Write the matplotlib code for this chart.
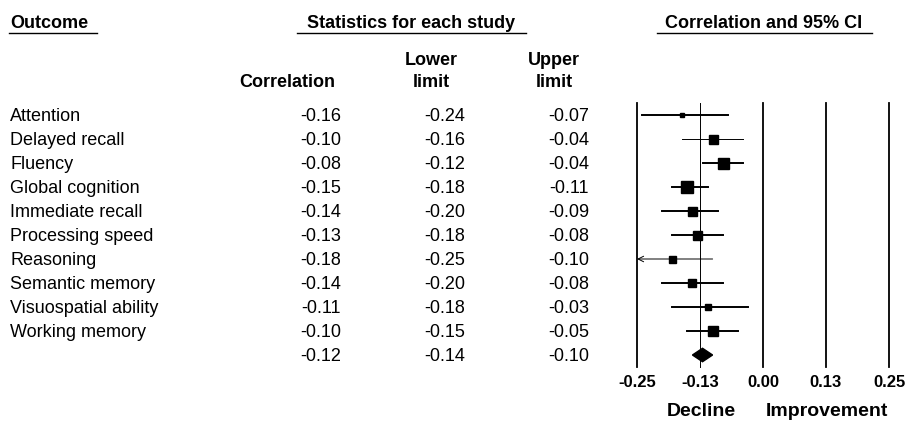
import numpy as np
import matplotlib
matplotlib.use("Agg")
import matplotlib.pyplot as plt

plt.rcParams["font.family"] = ["Liberation Sans", "DejaVu Sans"]

# Data
outcomes = ["Attention", "Delayed recall", "Fluency", "Global cognition",
            "Immediate recall", "Processing speed", "Reasoning",
            "Semantic memory", "Visuospatial ability", "Working memory"]
corr = [-0.16, -0.10, -0.08, -0.15, -0.14, -0.13, -0.18, -0.14, -0.11, -0.10]
lower = [-0.24, -0.16, -0.12, -0.18, -0.20, -0.18, -0.25, -0.20, -0.18, -0.15]
upper = [-0.07, -0.04, -0.04, -0.11, -0.09, -0.08, -0.10, -0.08, -0.03, -0.05]
weights = [5, 9, 11, 12, 9, 9, 7, 7.5, 5.5, 10]
summary = (-0.12, -0.14, -0.10)

tick_vals = [-0.25, -0.125, 0.0, 0.125, 0.25]
tick_labels = ["-0.25", "-0.13", "0.00", "0.13", "0.25"]

W, H = 910, 421
fig = plt.figure(figsize=(W / 100, H / 100), dpi=100)

# text layer in pixel coords
tx = fig.add_axes([0, 0, 1, 1])
tx.set_xlim(0, W)
tx.set_ylim(H, 0)
tx.axis("off")

fs = 13
tx.text(10, 28, "Outcome", fontsize=fs, fontweight="bold", va="baseline")
tx.plot([9, 97], [33, 33], color="black", lw=1)
tx.text(411, 28, "Statistics for each study", fontsize=fs, fontweight="bold",
        va="baseline", ha="center")
tx.plot([297, 526], [33, 33], color="black", lw=1)
tx.text(764, 28, "Correlation and 95% CI", fontsize=fs, fontweight="bold",
        va="baseline", ha="center")
tx.plot([657, 872], [33, 33], color="black", lw=1)

tx.text(287, 87, "Correlation", fontsize=fs, fontweight="bold", va="baseline", ha="center")
tx.text(431, 65, "Lower", fontsize=fs, fontweight="bold", va="baseline", ha="center")
tx.text(431, 87, "limit", fontsize=fs, fontweight="bold", va="baseline", ha="center")
tx.text(554, 65, "Upper", fontsize=fs, fontweight="bold", va="baseline", ha="center")
tx.text(554, 87, "limit", fontsize=fs, fontweight="bold", va="baseline", ha="center")

for i, name in enumerate(outcomes):
    yb = 121 + 24 * i
    tx.text(10, yb, name, fontsize=fs, va="baseline")
    tx.text(341, yb, f"{corr[i]:.2f}", fontsize=fs, va="baseline", ha="right")
    tx.text(465, yb, f"{lower[i]:.2f}", fontsize=fs, va="baseline", ha="right")
    tx.text(589, yb, f"{upper[i]:.2f}", fontsize=fs, va="baseline", ha="right")
yb = 121 + 24 * len(outcomes)
tx.text(341, yb, f"{summary[0]:.2f}", fontsize=fs, va="baseline", ha="right")
tx.text(465, yb, f"{summary[1]:.2f}", fontsize=fs, va="baseline", ha="right")
tx.text(589, yb, f"{summary[2]:.2f}", fontsize=fs, va="baseline", ha="right")

tx.text(701, 416, "Decline", fontsize=14, fontweight="bold", va="baseline", ha="center")
tx.text(827, 416, "Improvement", fontsize=14, fontweight="bold", va="baseline", ha="center")

# forest plot
ax = fig.add_axes([637 / W, 1 - 367 / H, 252 / W, 264 / H])
ax.set_xlim(-0.25, 0.25)
ax.set_ylim(len(outcomes) + 0.5, -0.5)
for s in ax.spines.values():
    s.set_visible(False)
ax.set_yticks([])
ax.set_xticks(tick_vals)
ax.set_xticklabels(tick_labels, fontsize=12, fontweight="bold")
ax.tick_params(axis="x", length=0, pad=5.5)

for v in [-0.25, 0.0, 0.125, 0.25]:
    ax.axvline(v, color="black", lw=1.3, clip_on=False)
ax.axvline(-0.125, color="black", lw=0.7, clip_on=False)

thin = {1, 6}
for i in range(len(outcomes)):
    lw = 0.7 if i in thin else 1.4
    lo = lower[i]
    if lo <= -0.25:
        ax.annotate("", xy=(-0.25, i), xytext=(upper[i], i),
                    arrowprops=dict(arrowstyle="->", lw=lw, color="black",
                                    shrinkA=0, shrinkB=0))
    else:
        ax.plot([lo, upper[i]], [i, i], color="black", lw=lw)
    ax.plot(corr[i], i, marker="s", color="black", markersize=weights[i] * 0.72,
            linestyle="none")

yd = len(outcomes)
h = 0.28
ax.fill([summary[1], summary[0], summary[2], summary[0]],
        [yd, yd - h, yd, yd + h], color="black")

fig.savefig("out.png", dpi=100)
